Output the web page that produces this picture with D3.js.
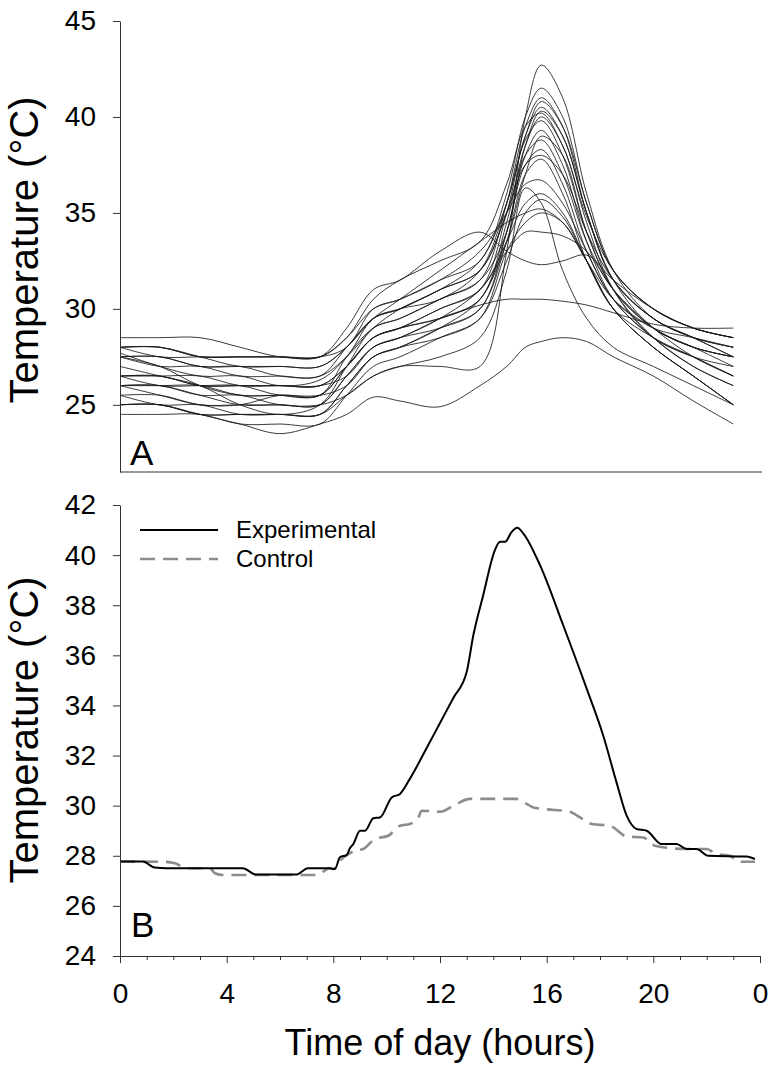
<!DOCTYPE html>
<html>
<head>
<meta charset="utf-8">
<script src="https://cdn.jsdelivr.net/npm/d3@7"></script>
<style>
  body { margin: 0; background: #fff; }
  svg text { font-family: Arial, "Liberation Sans", sans-serif; fill: #000; }
  .axis path, .axis line { stroke: #333; }
</style>
</head>
<body>
<div class="chart"></div>
<script>
// ---- data ----
// panel A: individual loggers, sampled at these hours
const knotHours = [0, 1.5, 3, 4.5, 6, 7.5, 8.5, 9.5, 10.5, 12, 13.5, 14.5, 15.2, 15.8, 16.6, 17.5, 18.5, 20, 21.5, 23];
const loggerTemps = [
  [26.0,26.0,25.5,25.5,25.0,25.0,25.5,26.5,27.0,27.0,27.0,33.0,40.0,42.7,41.0,36.0,32.0,29.5,28.5,27.5],
  [28.0,28.0,27.5,27.5,27.5,27.5,28.5,30.0,30.5,31.5,32.5,36.0,40.0,41.5,40.0,35.5,32.0,30.0,29.0,28.5],
  [27.5,27.0,26.0,25.5,25.5,25.5,27.5,29.0,29.5,30.5,31.5,35.5,39.5,41.0,39.5,35.0,31.5,29.5,28.5,27.5],
  [26.5,26.0,26.0,26.0,25.5,25.5,27.0,28.5,29.0,30.0,31.0,35.0,39.0,40.5,39.0,35.0,31.5,29.0,28.0,27.0],
  [28.5,28.5,28.5,28.0,27.5,27.5,28.5,30.5,31.5,32.5,33.5,36.5,39.5,40.2,38.5,34.8,32.0,30.0,29.0,28.5],
  [26.0,26.0,25.5,25.0,25.0,25.0,26.5,28.0,28.5,29.5,30.5,34.5,38.5,40.0,38.5,34.5,31.0,28.5,27.5,26.5],
  [27.7,27.0,26.5,26.5,26.0,26.3,27.5,29.5,30.0,30.5,32.0,35.5,38.8,39.8,38.0,34.0,31.0,29.0,28.0,27.5],
  [25.5,25.5,25.0,25.0,25.0,25.0,26.5,28.0,28.5,29.0,30.0,34.0,38.0,39.3,37.5,33.5,30.5,28.5,27.0,26.0],
  [27.5,27.0,27.0,26.5,26.5,26.5,28.0,29.5,30.0,31.0,32.0,35.0,38.0,38.8,37.0,33.5,31.0,29.0,28.0,27.5],
  [26.0,25.5,25.0,25.0,25.5,25.5,27.0,28.5,29.0,29.5,30.5,34.0,37.5,38.3,36.5,33.0,30.5,28.5,27.5,27.0],
  [25.0,25.0,24.5,24.5,24.5,24.5,26.0,27.5,28.0,29.0,30.0,33.5,37.0,37.8,36.0,32.5,30.0,28.0,26.5,25.0],
  [28.0,27.5,27.5,27.5,27.5,27.5,28.0,30.0,30.5,31.5,33.0,35.0,36.5,36.7,35.5,33.0,30.5,29.0,28.5,28.0],
  [26.5,26.5,26.0,26.0,26.0,26.0,27.0,28.5,29.0,30.0,31.0,33.5,35.5,36.0,35.0,32.5,30.0,28.5,27.5,26.5],
  [24.5,24.5,24.5,24.0,24.0,24.0,25.5,27.0,27.5,28.5,29.5,32.5,35.0,35.7,34.8,32.5,30.0,28.0,26.5,25.0],
  [27.5,27.5,27.0,27.0,27.0,27.0,28.0,29.5,30.5,32.0,33.5,34.5,35.0,35.2,34.5,32.5,30.5,29.0,28.0,27.5],
  [25.0,25.0,24.5,24.5,24.5,24.5,25.5,26.5,27.0,27.5,28.5,32.0,36.3,35.5,32.0,29.5,28.0,27.0,26.0,25.0],
  [26.5,26.5,26.0,26.0,26.0,26.0,27.0,28.5,29.0,29.5,30.2,30.5,30.5,30.5,30.4,30.2,29.8,29.2,29.0,29.0],
  [25.0,25.0,24.5,24.0,23.5,24.0,24.5,25.4,25.2,24.9,26.0,27.0,28.0,28.3,28.5,28.3,27.5,26.5,25.2,24.0],
  [28.0,28.0,27.5,27.5,27.5,27.5,29.0,31.0,31.5,33.0,34.0,33.0,32.5,32.3,32.5,32.8,31.5,30.0,29.0,28.5],
  [27.0,26.5,26.0,25.0,24.5,25.0,27.0,29.0,29.5,30.5,31.5,34.0,38.5,40.3,39.0,35.0,31.5,29.5,28.5,28.0],
  [26.0,26.0,26.0,25.5,25.5,25.5,26.0,27.5,28.0,29.0,30.5,33.5,37.0,39.0,38.0,34.0,31.0,28.5,27.0,26.0],
  [27.5,27.5,27.0,27.0,26.5,26.5,27.5,29.0,30.0,31.0,32.5,35.5,39.0,40.8,39.5,35.5,32.0,30.0,29.0,28.5],
  [28.0,28.0,27.5,27.0,27.0,27.0,28.0,29.5,30.0,31.0,32.0,35.0,37.5,38.0,37.0,34.0,31.5,29.5,28.5,28.0],
  [25.5,25.0,25.0,24.5,24.5,24.5,26.0,27.5,28.0,28.5,29.5,33.0,34.5,35.0,34.5,32.5,30.0,28.0,26.5,25.0],
  [26.5,26.5,26.5,26.0,26.0,26.0,26.5,28.0,28.5,29.5,31.0,33.0,34.0,34.0,33.8,33.0,31.0,29.0,27.5,26.5]
];

// panel B: mean experimental vs control
const expHours = [0,0.85,1.3,1.75,4.6,5.1,6.6,7.05,7.87,8.06,8.25,8.5,8.62,8.75,9.0,9.19,9.5,9.75,10.19,10.5,10.87,11.5,12.0,12.5,13.0,13.25,13.62,14.06,14.25,14.44,14.69,14.9,15.12,15.75,16.62,17.5,18.12,18.62,19.0,19.37,19.75,20.31,20.87,21.25,21.62,22.06,23.5,23.81];
const expTemps = [27.77,27.77,27.53,27.5,27.5,27.25,27.25,27.5,27.5,27.47,27.95,28.03,28.3,28.47,29.0,29.0,29.5,29.53,30.33,30.47,31.07,32.3,33.3,34.3,35.33,36.8,38.4,40.2,40.53,40.53,40.93,41.09,40.87,39.6,37.2,34.67,32.8,30.93,29.6,29.07,29.0,28.47,28.47,28.27,28.27,28.0,27.97,27.87];
const ctlHours = [0,1.62,2.06,2.5,3.37,3.56,3.87,7.37,7.87,8.0,8.25,8.81,9.12,9.56,10.06,10.5,10.87,11.19,11.31,12.0,12.62,13.12,14.87,15.25,15.5,15.87,16.87,17.25,17.69,18.37,19.0,19.62,20.06,21.25,22.0,22.37,22.87,23.19,23.81];
const ctlTemps = [27.77,27.76,27.7,27.5,27.5,27.3,27.23,27.23,27.5,27.47,27.8,28.2,28.27,28.67,28.8,29.2,29.27,29.53,29.8,29.76,30.07,30.27,30.27,30.07,29.93,29.87,29.76,29.53,29.27,29.2,28.77,28.73,28.4,28.27,28.27,28.07,28.0,27.76,27.76];

const yTicksA = [25, 30, 35, 40, 45];
const yTicksB = [24, 26, 28, 30, 32, 34, 36, 38, 40, 42];
const xTicks = [0, 4, 8, 12, 16, 20, 24];
const xTickLabels = ["0", "4", "8", "12", "16", "20", "0"];
const legendNames = ["Experimental", "Control"];

// ---- layout ----
const width = 778, height = 1066;
const svg = d3.select(".chart").append("svg")
  .attr("width", width)
  .attr("height", height);

const x = d3.scaleLinear().domain([0, 24]).range([120, 760]);
const yA = d3.scaleLinear().domain([21.5, 45]).range([472, 21]);
const yB = d3.scaleLinear().domain([24, 42]).range([956, 505]);

// ---- panel A ----
const lineA = d3.line()
  .x((d, i) => x(knotHours[i]))
  .y(d => yA(d))
  .curve(d3.curveCatmullRom.alpha(0.5));

svg.append("g").selectAll(".logger")
  .data(loggerTemps)
  .join("path")
  .attr("class", "logger")
  .attr("d", lineA)
  .attr("fill", "none")
  .attr("stroke", "#1a1a1a")
  .attr("stroke-width", 1)
  .attr("stroke-opacity", 0.85);

svg.append("g")
  .attr("class", "axis")
  .attr("transform", "translate(120,0)")
  .call(d3.axisLeft(yA).tickValues(yTicksA).tickSize(7).tickSizeOuter(0).tickPadding(17))
  .call(g => g.selectAll("text").style("font-size", "28px"));

// bottom frame line of A (no ticks)
svg.append("line")
  .attr("x1", 120).attr("x2", 762)
  .attr("y1", yA(21.5)).attr("y2", yA(21.5))
  .attr("stroke", "#333");

svg.append("text")
  .attr("x", 130).attr("y", 465)
  .style("font-size", "35px")
  .text("A");

// ---- panel B ----
const lineB = d3.line()
  .x(d => x(d[0]))
  .y(d => yB(d[1]))
  .curve(d3.curveMonotoneX);

svg.append("path")
  .attr("d", lineB(ctlHours.map((h, i) => [h, ctlTemps[i]])))
  .attr("fill", "none")
  .attr("stroke", "#8c8c8c")
  .attr("stroke-width", 2.6)
  .attr("stroke-dasharray", "15,8");

svg.append("path")
  .attr("d", lineB(expHours.map((h, i) => [h, expTemps[i]])))
  .attr("fill", "none")
  .attr("stroke", "#000")
  .attr("stroke-width", 2);

svg.append("g")
  .attr("class", "axis")
  .attr("transform", "translate(120,0)")
  .call(d3.axisLeft(yB).tickValues(yTicksB).tickSize(7).tickSizeOuter(0).tickPadding(17))
  .call(g => g.selectAll("text").style("font-size", "28px"));

// minor hour ticks
svg.append("g")
  .attr("class", "axis")
  .attr("transform", `translate(0,${yB(24)})`)
  .call(d3.axisBottom(x).tickValues(d3.range(0, 25).filter(h => h % 4)).tickSize(4).tickFormat(""))
  .call(g => g.select(".domain").remove());

svg.append("g")
  .attr("class", "axis")
  .attr("transform", `translate(0,${yB(24)})`)
  .call(d3.axisBottom(x).tickValues(xTicks).tickSize(7).tickSizeOuter(0).tickPadding(20)
    .tickFormat((d, i) => xTickLabels[i]))
  .call(g => g.selectAll("text").style("font-size", "28px"));

svg.append("text")
  .attr("x", 131).attr("y", 937)
  .style("font-size", "35px")
  .text("B");

// legend
const legend = svg.append("g");
legendNames.forEach((name, i) => {
  const ly = 530 + i * 29;
  legend.append("line")
    .attr("x1", 140).attr("x2", 218)
    .attr("y1", ly).attr("y2", ly)
    .attr("stroke", i ? "#8c8c8c" : "#000")
    .attr("stroke-width", i ? 2.6 : 2)
    .attr("stroke-dasharray", i ? "15,8" : null);
  legend.append("text")
    .attr("x", 236).attr("y", ly + 8)
    .style("font-size", "24px")
    .text(name);
});

// ---- axis titles ----
[250, 730].forEach(cy => {
  svg.append("text")
    .attr("transform", `translate(38,${cy}) rotate(-90)`)
    .attr("text-anchor", "middle")
    .style("font-size", "40px")
    .text("Temperature (°C)");
});

svg.append("text")
  .attr("x", 440).attr("y", 1055)
  .attr("text-anchor", "middle")
  .style("font-size", "36px")
  .text("Time of day (hours)");
</script>
</body>
</html>
